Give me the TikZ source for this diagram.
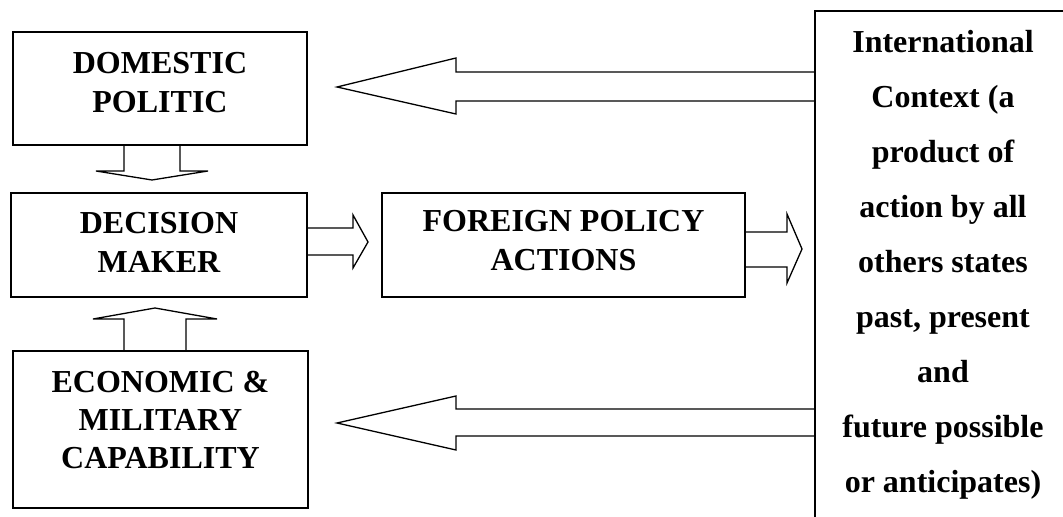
\documentclass[tikz,border=0pt]{standalone}
\usepackage{fontspec}
\setmainfont{Liberation Serif}
\usetikzlibrary{calc}

\begin{document}
\begin{tikzpicture}[x=0.5pt,y=-0.5pt,
  box/.style={draw,line width=0.85pt,align=center,inner sep=0pt,outer sep=0pt,
    font=\bfseries\fontsize{16}{19.5}\selectfont},
  blockarrow/.style={draw,line width=0.65pt,line join=miter}]
  \useasboundingbox (0,0) rectangle (1063,517);
  \node[box,minimum width=147pt,minimum height=56.5pt,text depth=6.5pt] (dom) at (160,88.5) {DOMESTIC\\POLITIC};
  \node[box,minimum width=148pt,minimum height=52pt,text depth=2.5pt] (dec) at (159,245) {DECISION\\MAKER};
  \node[box,minimum width=147.5pt,minimum height=78.5pt,text depth=9.5pt,
    font=\bfseries\fontsize{16}{19}\selectfont] (econ) at (160.5,429.5) {ECONOMIC \&\\MILITARY\\CAPABILITY};
  \node[box,minimum width=181.5pt,minimum height=52pt,text depth=4.5pt] (fp) at (563.5,245) {FOREIGN POLICY\\ACTIONS};
  \node[box,minimum width=128pt,minimum height=255.5pt,text depth=5pt,
    font=\bfseries\fontsize{16}{27.5}\selectfont] (intl) at (943,266.5)
    {International\\Context (a\\product of\\action by all\\others states\\past, present\\and\\future possible\\or anticipates)};
  \draw[blockarrow] ($(dom.south)+(-36,0)$) -- ++(0,26) -- ++(-28,0) -- ++(56,9) -- ++(56,-9) -- ++(-28,0) -- ++(0,-26);
  \draw[blockarrow] ($(econ.north)+(-36.5,0)$) -- ++(0,-32) -- ++(-31,0) -- ++(62,-11) -- ++(62,11) -- ++(-31,0) -- ++(0,32);
  \draw[blockarrow] ($(dec.east)+(0,-17)$) -- ++(46,0) -- ++(0,-13) -- ++(15,27) -- ++(-15,26) -- ++(0,-13) -- ++(-46,0);
  \draw[blockarrow] ($(fp.east)+(0,-13)$) -- ++(42,0) -- ++(0,-18) -- ++(15,35) -- ++(-15,34) -- ++(0,-16) -- ++(-42,0);
  \draw[blockarrow] ($(intl.north west)+(0,61)$) -- ++(-359,0) -- ++(0,-14) -- ++(-119,29) -- ++(119,27) -- ++(0,-13) -- ++(359,0);
  \draw[blockarrow] ($(intl.north west)+(0,398)$) -- ++(-359,0) -- ++(0,-13) -- ++(-119,27) -- ++(119,27) -- ++(0,-14) -- ++(359,0);
\end{tikzpicture}
\end{document}
